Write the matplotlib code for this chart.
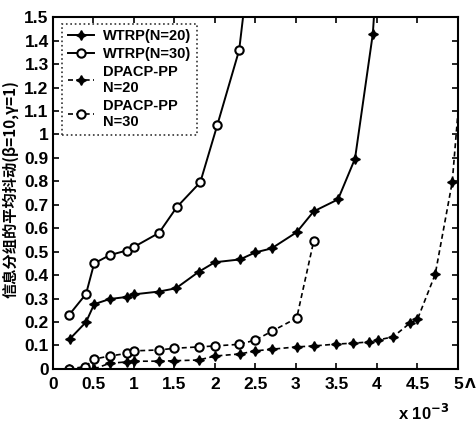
import numpy as np
import matplotlib
matplotlib.use("Agg")
import matplotlib.pyplot as plt
from matplotlib.ticker import FormatStrFormatter

plt.rcParams['font.family'] = ['Liberation Sans', 'Noto Sans CJK SC', 'DejaVu Sans']
plt.rcParams['font.weight'] = 'bold'

# x values are in units of 1e-3
x_wtrp30 = [0.2, 0.41, 0.51, 0.7, 0.91, 1.0, 1.31, 1.53, 1.82, 2.03, 2.3, 2.45]
y_wtrp30 = [0.23, 0.32, 0.45, 0.485, 0.505, 0.52, 0.58, 0.69, 0.796, 1.04, 1.36, 1.8]

x_wtrp20 = [0.21, 0.41, 0.51, 0.7, 0.91, 1.0, 1.31, 1.52, 1.8, 2.0, 2.31, 2.5, 2.7,
            3.01, 3.22, 3.52, 3.73, 3.95, 4.02]
y_wtrp20 = [0.128, 0.2, 0.276, 0.298, 0.307, 0.318, 0.33, 0.344, 0.414, 0.455, 0.467,
            0.497, 0.514, 0.583, 0.672, 0.723, 0.897, 1.43, 1.8]

x_dp30 = [0.2, 0.4, 0.51, 0.7, 0.91, 1.0, 1.31, 1.5, 1.8, 2.0, 2.3, 2.5, 2.7, 3.01, 3.22]
y_dp30 = [0.0, 0.01, 0.042, 0.055, 0.066, 0.077, 0.081, 0.088, 0.094, 0.098, 0.105,
          0.123, 0.16, 0.217, 0.545]

x_dp20 = [0.2, 0.4, 0.51, 0.7, 0.91, 1.0, 1.31, 1.5, 1.8, 2.0, 2.31, 2.5, 2.7, 3.01,
          3.22, 3.5, 3.71, 3.9, 4.01, 4.2, 4.41, 4.5, 4.72, 4.93, 5.05]
y_dp20 = [0.0, 0.003, 0.0, 0.024, 0.03, 0.033, 0.033, 0.035, 0.038, 0.055, 0.064,
          0.077, 0.084, 0.094, 0.098, 0.106, 0.11, 0.115, 0.123, 0.137, 0.196, 0.211,
          0.404, 0.797, 1.3]

fig = plt.figure(figsize=(4.76, 4.3), dpi=100)
ax = fig.add_axes([0.111, 0.142, 0.851, 0.818])

star = (4, 1, 0)
ax.plot(x_wtrp20, y_wtrp20, '-', color='k', lw=1.4, marker=star, ms=7,
        mfc='k', label='WTRP(N=20)')
ax.plot(x_wtrp30, y_wtrp30, '-', color='k', lw=1.4, marker='o', ms=6,
        mfc='white', mew=1.5, label='WTRP(N=30)')
ax.plot(x_dp20, y_dp20, '--', color='k', lw=1.2, marker=star, ms=7,
        mfc='k', dashes=(3, 2), label='DPACP-PP\nN=20')
ax.plot(x_dp30, y_dp30, '--', color='k', lw=1.2, marker='o', ms=6,
        mfc='white', mew=1.5, dashes=(3, 2), label='DPACP-PP\nN=30')

ax.set_xlim(0, 5)
ax.set_ylim(0, 1.5)
ax.set_xticks(np.arange(0, 5.01, 0.5))
ax.set_yticks(np.arange(0, 1.501, 0.1))
ax.xaxis.set_major_formatter(FormatStrFormatter('%g'))
ax.yaxis.set_major_formatter(FormatStrFormatter('%g'))
ax.tick_params(direction='in', length=4, width=1.2, labelsize=12.5,
               top=True, right=True)
ax.tick_params(axis='x', pad=6)
ax.tick_params(axis='y', pad=3)
for lab in ax.get_xticklabels() + ax.get_yticklabels():
    lab.set_fontweight('bold')
for s in ax.spines.values():
    s.set_linewidth(1.5)

fig.text(0.004, 0.56, '信息分组的平均抖动(β=10,γ=1)', fontsize=11, fontweight='bold',
         family=['Noto Sans CJK SC', 'DejaVu Sans'], rotation=90,
         ha='left', va='center')

leg = ax.legend(loc='upper left', fontsize=10.5, frameon=True, fancybox=False,
                handlelength=1.8, handletextpad=0.6, borderpad=0.4,
                labelspacing=0.25, borderaxespad=0,
                bbox_to_anchor=(0.022, 0.982))
leg.get_frame().set_edgecolor('k')
leg.get_frame().set_linestyle(':')
leg.get_frame().set_linewidth(1.2)
for t in leg.get_texts():
    t.set_fontweight('bold')

fig.text(0.976, 0.108, 'Λ', fontsize=10, fontweight='bold', ha='left', va='center',
         family=['DejaVu Sans'])
fig.text(0.836, 0.04, r'x 10$^{\mathbf{-3}}$', fontsize=12, fontweight='bold',
         ha='left', va='center')

fig.savefig('out.png', dpi=100)
